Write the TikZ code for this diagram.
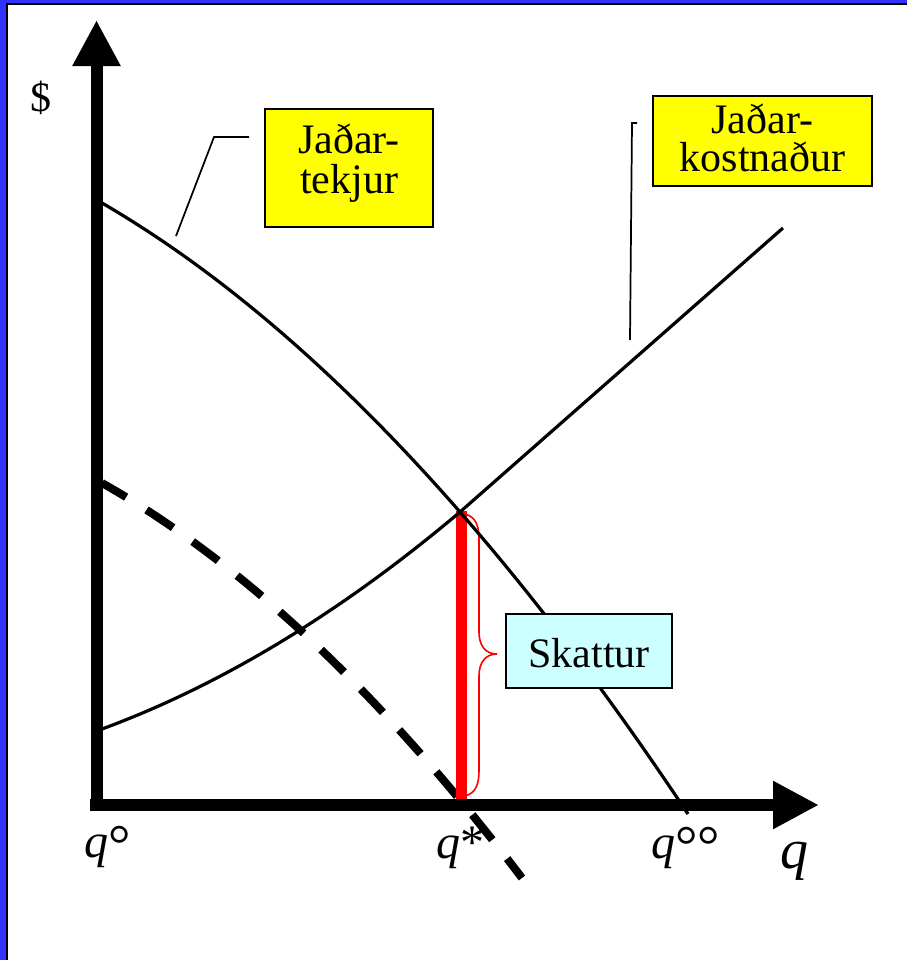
\documentclass[tikz,border=0pt]{standalone}
\usepackage{fontspec}
\setmainfont{Liberation Serif}
\usetikzlibrary{arrows.meta}
\definecolor{bgblue}{HTML}{3333FF}
\definecolor{boxyellow}{HTML}{FFFF00}
\definecolor{boxcyan}{HTML}{CCFFFF}
\definecolor{taxred}{HTML}{FF0000}
\newcommand{\degr}{\raisebox{-5pt}{\fontsize{42}{42}\selectfont °}}
\begin{document}
\begin{tikzpicture}[x=0.75pt,y=-0.75pt,
  axisline/.style={line width=9pt,-{Triangle[length=34.5pt,width=33.75pt]}},
  curveline/.style={line width=2.4pt,line join=round},
  dashline/.style={line width=6pt,dash pattern=on 24pt off 18pt,dash phase=3pt},
  taxbar/.style={line width=8.25pt,taxred},
  bracel/.style={line width=1.2pt,taxred},
  pointer/.style={line width=1.3pt},
  ybox/.style={draw=black,fill=boxyellow,line width=1.4pt,inner sep=0pt},
  cbox/.style={draw=black,fill=boxcyan,line width=1.4pt,inner sep=0pt},
  lbl/.style={font=\fontsize{31.5}{30}\selectfont,anchor=base,inner sep=0pt},
  qlbl/.style={font=\fontsize{36}{36}\selectfont,anchor=base west,inner sep=0pt},
  qaxis/.style={font=\fontsize{42}{42}\selectfont,anchor=base west,inner sep=0pt}]
\useasboundingbox (0,0) rectangle (907,960);
% frame
\fill[bgblue] (0,0) rectangle (907,960);
\fill[white] (7,4) rectangle (907,960);
\draw[line width=1.5pt] (7,960) -- (7,4) -- (907,4);
% coordinates
\coordinate (O) at (96.5,805);
\coordinate (ybot) at (96.5,811);
\coordinate (ytop) at (96.5,20);
\coordinate (xstart) at (90,805);
\coordinate (xend) at (819,805);
\coordinate (E) at (460,512);
\coordinate (Ebot) at (461,799);
\coordinate (Etop) at (461,511);
% dashed curve
\draw[dashline] (102,483) .. controls (242,562.1) and (382,693.8) .. (522,878);
% tax bar
\draw[taxbar] (Etop) -- (Ebot);
% brace
\draw[bracel] (465,514) .. controls (477,517) and (479,528) .. (479,540) -- (479,632)
  .. controls (479,645) and (485,654) .. (497,654)
  .. controls (485,654) and (479,663) .. (479,676) -- (479,770)
  .. controls (479,782) and (477,793) .. (465,796);
% marginal revenue
\draw[curveline] (102,203) .. controls (297.3,316.5) and (492.7,520.2) .. (688,814);
% marginal cost
\draw[curveline] (102,729) .. controls (221.3,685) and (340.7,612.7) .. (E) -- (783,228);
% axes
\draw[axisline] (ybot) -- (ytop);
\draw[axisline] (xstart) -- (xend);
% boxes
\node[ybox,minimum width=126pt,minimum height=88.5pt] (mrbox) at (349,168) {};
\node[lbl] (mrA) at (349,153) {Jaðar-};
\node[lbl] (mrB) at (349,193) {tekjur};
\node[ybox,minimum width=164.25pt,minimum height=67.5pt] (mcbox) at (762.5,141) {};
\node[lbl] (mcA) at (762.5,133) {Jaðar-};
\node[lbl] (mcB) at (762.5,171) {kostnaður};
\node[cbox,minimum width=124.5pt,minimum height=55.5pt] (taxbox) at (589,651) {};
\node[lbl] (taxtxt) at (589,667) {Skattur};
% pointers
\coordinate (mrp1) at (249,137);
\coordinate (mrp2) at (214,137);
\coordinate (mrp3) at (176,236);
\draw[pointer] (mrp1) -- (mrp2) -- (mrp3);
\coordinate (mcp1) at (637,123);
\coordinate (mcp2) at (632,123);
\coordinate (mcp3) at (630,340);
\draw[pointer] (mcp1) -- (mcp2) -- (mcp3);
% labels
\node[lbl] (dollar) at (41,111) {\$};
\node[qlbl] (q0) at (84,857) {\textit{q}\degr};
\node[qlbl] (qs) at (436,858) {\textit{q}*};
\node[qlbl] (q00) at (651,858) {\textit{q}\degr\degr};
\node[qaxis] (qax) at (780,868) {\textit{q}};
\end{tikzpicture}
\end{document}
